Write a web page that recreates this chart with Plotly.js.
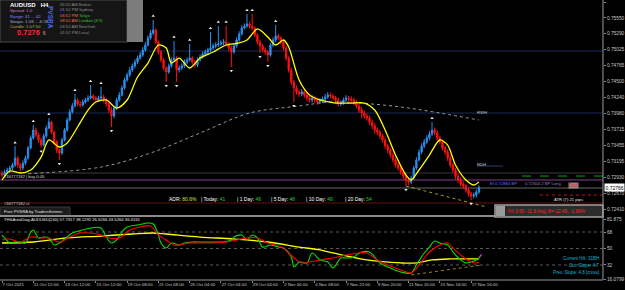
<!DOCTYPE html>
<html><head><meta charset="utf-8">
<script src="https://cdn.plot.ly/plotly-3.0.1.min.js"></script>
<style>html,body{margin:0;padding:0;background:#000;}#chart{width:625px;height:290px;}</style>
</head><body><div id="chart"></div>
<script>
// ---------- DATA (AUDUSD H4) ----------
const barOpen = [.72990,.72969,.73018,.73051,.73084,.73133,.73248,.73133,.73084,.73166,
.73248,.73412,.73576,.73708,.73626,.73544,.73461,.73609,.73741,.73839,
.73675,.73511,.73379,.73330,.73544,.73708,.73872,.74003,.74102,.74200,
.74135,.74118,.74168,.74200,.74233,.74266,.74233,.74200,.74233,.74250,
.74200,.74135,.74036,.73938,.74069,.74200,.74283,.74398,.74529,.74611,
.74693,.74759,.74825,.74890,.74940,.75022,.75104,.75219,.75301,.75350,
.75153,.74989,.74858,.74726,.74660,.74759,.74858,.74890,.74693,.74726,
.74759,.74825,.74858,.74890,.74825,.74775,.74858,.74907,.74956,.74989,
.75022,.75055,.75087,.75104,.75120,.75137,.75153,.75120,.75055,.74989,
.75087,.75186,.75285,.75383,.75416,.75449,.75416,.75383,.75268,.75153,
.75087,.75022,.74989,.74940,.75104,.75186,.75252,.75219,.75153,.75055,
.74890,.74693,.74496,.74398,.74332,.74299,.74332,.74283,.74233,.74200,
.74233,.74200,.74168,.74184,.74217,.74250,.74283,.74266,.74233,.74200,
.74135,.74151,.74200,.74233,.74217,.74200,.74168,.74102,.74036,.73987,
.73938,.73905,.73839,.73777,.73708,.73675,.73609,.73544,.73445,.73379,
.73297,.73215,.73133,.73084,.73018,.72952,.72887,.72854,.72919,.73084,
.73215,.73346,.73445,.73511,.73576,.73642,.73708,.73659,.73576,.73511,
.73412,.73346,.73248,.73133,.73051,.72952,.72887,.72821,.72788,.72722,
.72657,.72624,.72640,.72689];
const barHigh = [.73040,.73060,.73090,.73120,.73170,.73445,.73280,.73170,.73210,.73290,
.73450,.73620,.73790,.73750,.73660,.73580,.73650,.73780,.73905,.73860,
.73700,.73540,.73400,.73580,.73740,.73910,.74050,.74150,.74300,.74230,
.74180,.74210,.74240,.74280,.74447,.74300,.74270,.74270,.74414,.74290,
.74230,.74170,.74080,.74110,.74240,.74330,.74440,.74570,.74650,.74740,
.74800,.74870,.74930,.74990,.75070,.75150,.75260,.75350,.75515,.75380,
.75180,.75020,.74890,.74750,.74800,.74900,.75170,.74920,.74770,.74800,
.74870,.74900,.75120,.74920,.74860,.74900,.74950,.75000,.75030,.75060,
.75317,.75130,.75150,.75416,.75180,.75200,.75416,.75150,.75090,.75130,
.75230,.75330,.75430,.75460,.75613,.75490,.75613,.75410,.75300,.75190,
.75120,.75060,.75020,.75140,.75230,.75432,.75290,.75250,.75190,.75090,
.74920,.74730,.74530,.74440,.74370,.74380,.74370,.74320,.74270,.74280,
.74270,.74240,.74230,.74260,.74300,.74330,.74320,.74300,.74270,.74240,
.74190,.74240,.74280,.74270,.74260,.74240,.74200,.74140,.74080,.74030,
.73980,.73940,.73880,.73820,.73750,.73710,.73650,.73590,.73480,.73420,
.73340,.73260,.73170,.73120,.73060,.72990,.72930,.72960,.73120,.73260,
.73390,.73490,.73560,.73620,.73690,.73839,.73750,.73700,.73610,.73550,
.73450,.73390,.73290,.73170,.73090,.72990,.72930,.72860,.72820,.72760,
.72690,.72680,.72730,.72800];
const barLow = [.72930,.72930,.72990,.73010,.73050,.73100,.73090,.73030,.73050,.73130,
.73220,.73390,.73550,.73590,.73500,.73420,.73440,.73580,.73720,.73640,
.73470,.73330,.73215,.73300,.73520,.73680,.73850,.73980,.74080,.74100,
.74080,.74090,.74140,.74170,.74210,.74200,.74160,.74170,.74200,.74160,
.74090,.73990,.73757,.73900,.74040,.74170,.74260,.74370,.74500,.74580,
.74660,.74720,.74790,.74860,.74910,.74990,.75080,.75190,.75270,.75120,
.74950,.74820,.74690,.74496,.74630,.74730,.74830,.74496,.74650,.74690,
.74730,.74790,.74830,.74780,.74730,.74740,.74830,.74880,.74920,.74950,
.74990,.75020,.75050,.75070,.75090,.75100,.75080,.75000,.74743,.74960,
.75060,.75160,.75260,.75360,.75390,.75380,.75340,.75230,.75110,.74973,
.74980,.74940,.74825,.74910,.75070,.75150,.75180,.75110,.75010,.74850,
.74650,.74450,.74168,.74290,.74250,.74260,.74240,.74190,.74160,.74160,
.74150,.74120,.74130,.74150,.74180,.74220,.74230,.74190,.74150,.74090,
.74100,.74120,.74170,.74180,.74150,.74120,.74060,.73990,.73900,.73890,
.73860,.73790,.73720,.73650,.73620,.73560,.73500,.73400,.73330,.73250,
.73170,.73090,.73040,.72970,.72900,.72788,.72800,.72820,.72890,.73050,
.73190,.73310,.73410,.73480,.73540,.73610,.73620,.73530,.73470,.73370,
.73300,.73200,.73090,.73000,.72900,.72840,.72780,.72740,.72680,.72610,
.72558,.72590,.72600,.72660];
const barClose = [.72969,.73018,.73051,.73084,.73133,.73248,.73133,.73084,.73166,.73248,
.73412,.73576,.73708,.73626,.73544,.73461,.73609,.73741,.73839,.73675,
.73511,.73379,.73330,.73544,.73708,.73872,.74003,.74102,.74200,.74135,
.74118,.74168,.74200,.74233,.74266,.74233,.74200,.74233,.74250,.74200,
.74135,.74036,.73938,.74069,.74200,.74283,.74398,.74529,.74611,.74693,
.74759,.74825,.74890,.74940,.75022,.75104,.75219,.75301,.75350,.75153,
.74989,.74858,.74726,.74660,.74759,.74858,.74890,.74693,.74726,.74759,
.74825,.74858,.74890,.74825,.74775,.74858,.74907,.74956,.74989,.75022,
.75055,.75087,.75104,.75120,.75137,.75153,.75120,.75055,.74989,.75087,
.75186,.75285,.75383,.75416,.75449,.75416,.75383,.75268,.75153,.75087,
.75022,.74989,.74940,.75104,.75186,.75252,.75219,.75153,.75055,.74890,
.74693,.74496,.74398,.74332,.74299,.74332,.74283,.74233,.74200,.74233,
.74200,.74168,.74184,.74217,.74250,.74283,.74266,.74233,.74200,.74135,
.74151,.74200,.74233,.74217,.74200,.74168,.74102,.74036,.73987,.73938,
.73905,.73839,.73777,.73708,.73675,.73609,.73544,.73445,.73379,.73297,
.73215,.73133,.73084,.73018,.72952,.72887,.72854,.72919,.73084,.73215,
.73346,.73445,.73511,.73576,.73642,.73708,.73659,.73576,.73511,.73412,
.73346,.73248,.73133,.73051,.72952,.72887,.72821,.72788,.72722,.72657,
.72624,.72640,.72689,.72766];

// fast MA (yellow)
const maBars = [0,3,7,11,15,18,22,25,29,33,36,40,44,48,52,56,60,63,65,68,72,76,81,86,91,94,98,102,105,108,110,114,118,122,128,134,139,143,147,151,155,157,160,164,168,171,174,178,181,183];
const maVals = [.72887,.73034,.73002,.73051,.73264,.73544,.73429,.73494,.73757,.74036,.74168,.74201,.74069,.74201,.74578,.74808,.75104,.75055,.74808,.74890,.74726,.74890,.74989,.75104,.75137,.75186,.75367,.75235,.75104,.75186,.75071,.74529,.74283,.74201,.74151,.74151,.74151,.74036,.73708,.73297,.72969,.72887,.73051,.73297,.73544,.73461,.73133,.72887,.72805,.72854];
// slow MA (grey dotted)
const slowBars = [10,38,57,76,95,114,126,137,153,168,183];
const slowVals = [.72990,.73100,.73330,.73659,.73987,.74102,.74168,.74151,.74086,.73987,.73872];
// fractals
const upBars = [5,12,18,28,34,38,58,66,72,80,83,86,94,96,105,165];
const upVals = [.73500,.73850,.73965,.74360,.74510,.74475,.75580,.75235,.75185,.75380,.75480,.75480,.75675,.75675,.75495,.73900];
const dnBars = [15,22,42,63,67,88,99,102,112,155,180];
const dnVals = [.73360,.73155,.73695,.74435,.74435,.74680,.74910,.74765,.74105,.72725,.72495];
// trend line (lows)
const trendBars = [155,186];
const trendVals = [.72788,.72443];
// horizontal levels
const levelPrices = [0.75005, 0.73987, 0.73002, 0.72887, 0.72755, 0.72509];
const currentPrice = 0.72766;

// sub-window oscillator
const greenX = [0,1,3,5,7,9,11,12,14,16,18,20,22,25,27,31,34,38,40,42,44,46,48,52,56,58,60,61,63,65,68,70,73,76,79,83,85,88,89,92,94,96,98,100,103,106,108,111,112,113,114,117,119,122,125,127,130,132,135,137,141,145,149,153,157,159,162,164,166,168,171,173,176,178,180,182,183];
const greenV = [64.7,61.5,56.0,57.1,57.1,56.0,68.0,70.2,61.5,62.5,61.5,53.8,56.0,62.5,66.9,70.2,72.4,72.4,62.5,56.0,59.3,68.0,73.5,75.6,77.8,76.7,64.7,56.0,50.5,56.0,53.8,56.0,57.1,57.1,57.1,57.1,57.1,59.3,62.5,64.7,59.3,64.7,61.5,51.6,53.8,51.6,50.5,40.7,29.8,32.0,35.3,34.2,45.1,37.5,35.3,28.7,39.6,39.6,40.7,45.1,46.2,34.2,28.7,24.4,23.3,32.0,45.1,51.6,58.2,56.0,53.8,46.2,37.5,34.2,35.3,37.5,39.6];
const redX = [0,3,7,11,15,18,22,26,30,34,38,41,45,49,53,57,60,63,66,68,72,76,81,86,90,94,98,102,105,108,110,113,115,118,122,127,132,137,140,144,148,153,157,160,164,168,171,173,177,180,182,183];
const redV = [59.3,60.4,57.1,62.5,61.5,61.5,57.1,62.5,66.9,66.9,64.7,61.5,61.5,70.2,73.5,74.5,64.7,59.3,53.8,53.8,56.0,56.0,56.0,57.1,59.3,61.5,61.5,56.0,53.8,50.5,45.1,37.5,34.2,35.3,37.5,39.6,42.9,45.1,45.1,37.5,32.0,26.6,23.3,32.0,46.2,53.8,56.0,50.5,40.7,35.3,34.2,35.3];
const ylwX = [0,12,25,38,50,58,63,76,89,102,114,122,127,140,153,159,165,172,183];
const ylwV = [56.0,57.1,61.5,63.6,65.8,66.9,65.8,62.5,60.4,57.1,51.6,48.4,45.1,37.5,34.2,34.2,37.5,38.6,38.6];
const tipX = [183,184];
const tipV = [39.6,43.5];
const subTrendX = [157,184];
const subTrendV = [21.1,32.0];
const subLevels = [68,50,32];

// axis labels
const timeTickBars = [0,12,24,36,48,60,72,84,96,108,120,132,144,156,168,180];
const timeTickText = ['7 Oct 2021','11 Oct 12:00','13 Oct 12:00','15 Oct 12:00','19 Oct 08:00','21 Oct 08:00','25 Oct 04:00','27 Oct 04:00','29 Oct 04:00','2 Nov 00:00','4 Nov 08:00','7 Nov 22:00','9 Nov 20:00','11 Nov 20:00','15 Nov 16:00','17 Nov 16:00'];
const priceTicks = [0.75810,0.75550,0.75290,0.75025,0.74765,0.74500,0.74240,0.73980,0.73715,0.73455,0.73195,0.72930,0.72670,0.72410];
const priceTickText = ['0.75810','0.75550','0.75290','0.75025','0.74765','0.74500','0.74240','0.73980','0.73715','0.73455','0.73195','0.72930','0.72670','0.72410'];
const subTicks = [81.875,68,50,32,16.0799];
const subTickText = ['81.875','68','50','32','16.0799'];

// ---------- LAYOUT ----------
const bars = barClose.map((_, i) => i);
const FONT = 'Liberation Sans, Arial, sans-serif';
const W = 603, HP = 280;
const px = x => x / W, py = y => 1 - y / HP;

function ann(x, y, text, color, size, extra) {
  return Object.assign({xref:'paper', yref:'paper', x:px(x), y:py(y), text:text, showarrow:false,
    xanchor:'left', yanchor:'middle', borderpad:0, font:{family:FONT, size:size, color:color}}, extra || {});
}
function rectP(x0, y0, x1, y1, fill, line, lw) {
  return {type:'rect', xref:'paper', yref:'paper', x0:px(x0), x1:px(x1), y0:py(y1), y1:py(y0),
    fillcolor:fill, line:{color:line || fill, width:lw || 0}, layer:'above'};
}

const traces = [
  {type:'scatter', mode:'lines', x:slowBars, y:slowVals, line:{color:'#9a9a9a', width:1, dash:'dot', shape:'spline'}, hoverinfo:'skip'},
  {type:'scatter', mode:'lines', x:trendBars, y:trendVals, line:{color:'#a89a20', width:1, dash:'dot'}, hoverinfo:'skip'},
  {type:'candlestick', x:bars, open:barOpen, high:barHigh, low:barLow, close:barClose,
    increasing:{line:{color:'#2a90f0', width:1}, fillcolor:'#2a90f0'},
    decreasing:{line:{color:'#ff1010', width:1}, fillcolor:'#ff1010'},
    whiskerwidth:0, hoverinfo:'skip'},
  {type:'scatter', mode:'lines', x:maBars, y:maVals, line:{color:'#ffff00', width:1.3, shape:'spline', smoothing:0.8}, hoverinfo:'skip'},
  {type:'scatter', mode:'markers', x:upBars, y:upVals, marker:{symbol:'triangle-up', size:3, color:'#e8e8e8'}, hoverinfo:'skip'},
  {type:'scatter', mode:'markers', x:dnBars, y:dnVals, marker:{symbol:'triangle-down', size:3, color:'#e8e8e8'}, hoverinfo:'skip'},
  {type:'scatter', mode:'lines', x:subTrendX, y:subTrendV, yaxis:'y2', line:{color:'#9a8a10', width:1, dash:'dot'}, hoverinfo:'skip'},
  {type:'scatter', mode:'lines', x:ylwX, y:ylwV, yaxis:'y2', line:{color:'#ffff00', width:1.3, shape:'spline'}, hoverinfo:'skip'},
  {type:'scatter', mode:'lines', x:greenX, y:greenV, yaxis:'y2', line:{color:'#00e000', width:1.1, shape:'spline'}, hoverinfo:'skip'},
  {type:'scatter', mode:'lines', x:redX, y:redV, yaxis:'y2', line:{color:'#ff0000', width:1.1, shape:'spline'}, hoverinfo:'skip'},
  {type:'scatter', mode:'lines', x:tipX, y:tipV, yaxis:'y2', line:{color:'#ff40ff', width:1.1}, hoverinfo:'skip'}
];

const levelColors = ['#1c2c5c','#1c2c5c','#3a3a3a','#8a3c9c','#686868','#6a1010'];
const shapes = [];
levelPrices.forEach((p, i) => shapes.push({type:'line', xref:'paper', x0:0, x1:1, yref:'y', y0:p, y1:p,
  line:{color:levelColors[i], width:1}, layer:'below'}));
shapes.push({type:'line', xref:'paper', x0:px(477), x1:px(503), yref:'y', y0:0.73116, y1:0.73116, line:{color:'#2a3c7a', width:1}});
shapes.push({type:'line', xref:'paper', x0:px(522), x1:1, yref:'y', y0:0.72952, y1:0.72952, line:{color:'#10a010', width:1, dash:'dash'}});
shapes.push({type:'line', xref:'paper', x0:px(540), x1:1, yref:'y', y0:0.72640, y1:0.72640, line:{color:'#c01010', width:1, dash:'dot'}});
subLevels.forEach(v => shapes.push({type:'line', xref:'paper', x0:0, x1:1, yref:'y2', y0:v, y1:v, line:{color:'#5a5a5a', width:1, dash:'dot'}, layer:'below'}));
shapes.push(rectP(0, 0, 127, 42, '#151515', '#4a4a4a', 1));
shapes.push(rectP(127, 0, 143, 42, '#7c7c7c'));
shapes.push(rectP(0, 207, 70, 216, '#1c1c1c', '#3a3a3a', 1));
shapes.push(rectP(0, 215, 603, 217, '#8c8c8c'));
shapes.push(rectP(495, 205, 603, 217, '#2c2c2c', '#a0a0a0', 1.5));
shapes.push(rectP(496, 206, 505, 216, '#9a9a9a'));
shapes.push({type:'line', xref:'paper', yref:'paper', x0:1, x1:1, y0:0, y1:1, line:{color:'#9a9a9a', width:1}});
shapes.push({type:'line', xref:'paper', yref:'paper', x0:0, x1:1, y0:0, y1:0, line:{color:'#9a9a9a', width:1}});

const annotations = [
  ann(9, 5, '<b>AUDUSD   H4</b>', '#ffffff', 6),
  ann(9, 11, 'Spread: 1.0', '#c77ad0', 4.3),
  ann(9, 16.5, 'Range: 41 ... 42', '#8a8aff', 4.3),
  ann(9, 22, 'Swaps: 1.08 .. -6.58', '#a8a8d8', 4.3),
  ann(9, 27, 'Candle: 1:07:50', '#d0a060', 4.3),
  ann(16, 32, '<b>0.7276</b>', '#ff2a2a', 7.5),
  ann(42, 33, '6', '#c0c0c0', 4.5),
  ann(51, 17, '<b>PVSRA</b>', '#4a64ff', 6.5, {textangle:90, xanchor:'center'}),
  ann(59, 4.5, '05:52 AM Broker', '#8c8c8c', 4.2),
  ann(59, 10, '01:52 PM Sydney', '#8c8c8c', 4.2),
  ann(59, 15.5, '<span style="color:#e07050">06:52 PM</span> Tokyo', '#30c030', 4.2),
  ann(59, 21, '<span style="color:#e07050">08:52 AM</span> London (8:5)', '#30c030', 4.2),
  ann(59, 26.5, '03:52 AM NewYork', '#8c8c8c', 4.2),
  ann(59, 32, '01:52 PM Local', '#8c8c8c', 4.2),
  ann(3, 176.5, '#36777182 | buy 0.05', '#d8d8d8', 4.2),
  ann(3, 203, '#36777182 sl', '#d8d8d8', 4.2),
  ann(3, 211.5, 'Free PVSRA by Tradersthemes', '#e0e0e0', 4.2),
  ann(168, 199, 'ADR: <span style="color:#d8e020">80.6%</span>', '#ffffff', 5),
  ann(200, 199, '| Today: <span style="color:#20d020">41</span>', '#ffffff', 5),
  ann(236, 199, '| 1 Day: <span style="color:#20d020">46</span>', '#ffffff', 5),
  ann(270, 199, '| 5 Day: <span style="color:#20d020">48</span>', '#ffffff', 5),
  ann(305, 199, '| 10 Day: <span style="color:#20d020">49</span>', '#ffffff', 5),
  ann(344, 199, '| 20 Day: <span style="color:#20d020">54</span>', '#ffffff', 5),
  ann(476, 112, 'RWH', '#c8c8c8', 4.2),
  ann(476, 164, 'RDH', '#c8c8c8', 4.2),
  ann(489, 183, 'EI 0.72884 BP', '#4a7aff', 4.2),
  ann(524, 183, '0.72604 2 BP Long', '#a07ab8', 4.2),
  ann(568, 185.5, 'Davl', '#ff2020', 4.5, {bgcolor:'#8a8a8a'}),
  ann(553, 199, 'ATR (7) 21 pips', '#e0e0e0', 4.2),
  ann(507, 211, 'Fri 3 80 -11.8 Avg, 8=-12.45, -1.89%', '#ff2020', 4.8),
  ann(3, 219.5, 'THSAutoDiag-AUDUSD(240) 57.7317 38.1292 26.5266 43.5264 36.6116', '#e8e8e8', 4.2),
  ann(600, 258, 'Current HA: 31BH', '#18b4d4', 4.5, {xanchor:'right'}),
  ann(600, 265, 'Cur. Slope: 4.7', '#18b4d4', 4.5, {xanchor:'right'}),
  ann(600, 272, 'Prev. Slope: 4.8 [cross]', '#18b4d4', 4.5, {xanchor:'right'}),
  {xref:'paper', yref:'y', x:1, xshift:1, y:currentPrice, xanchor:'left', yanchor:'middle', showarrow:false,
   text:'0.72766', bgcolor:'#ffffff', borderpad:0.5, font:{family:FONT, size:5, color:'#000000'}}
];

const layout = {
  width:625, height:290,
  margin:{l:0, r:22, t:0, b:10, pad:0},
  paper_bgcolor:'#000000', plot_bgcolor:'#000000',
  showlegend:false, hovermode:false,
  xaxis:{type:'linear', range:[-0.77, 230.6], anchor:'y2', rangeslider:{visible:false},
    tickvals:timeTickBars, ticktext:timeTickText, tickangle:0, ticklabelposition:'outside right',
    ticks:'outside', ticklen:2, tickcolor:'#8a8a8a', tickfont:{family:FONT, size:4.4, color:'#c8c8c8'},
    showgrid:false, zeroline:false, showline:false, fixedrange:true, automargin:false},
  yaxis:{domain:[0.2321, 1], range:[0.72312, 0.75843], side:'right', anchor:'x',
    tickvals:priceTicks, ticktext:priceTickText, ticks:'outside', ticklen:2, tickcolor:'#8a8a8a',
    tickfont:{family:FONT, size:4.8, color:'#c8c8c8'}, showgrid:false, zeroline:false, showline:false, fixedrange:true, automargin:false},
  yaxis2:{domain:[0, 0.2182], range:[15.6, 82.3], side:'right', anchor:'x',
    tickvals:subTicks, ticktext:subTickText, ticks:'outside', ticklen:2, tickcolor:'#8a8a8a',
    tickfont:{family:FONT, size:4.8, color:'#c8c8c8'}, showgrid:false, zeroline:false, showline:false, fixedrange:true, automargin:false},
  shapes:shapes,
  annotations:annotations
};

Plotly.newPlot('chart', traces, layout, {staticPlot:true, displayModeBar:false});
</script>
</body></html>
